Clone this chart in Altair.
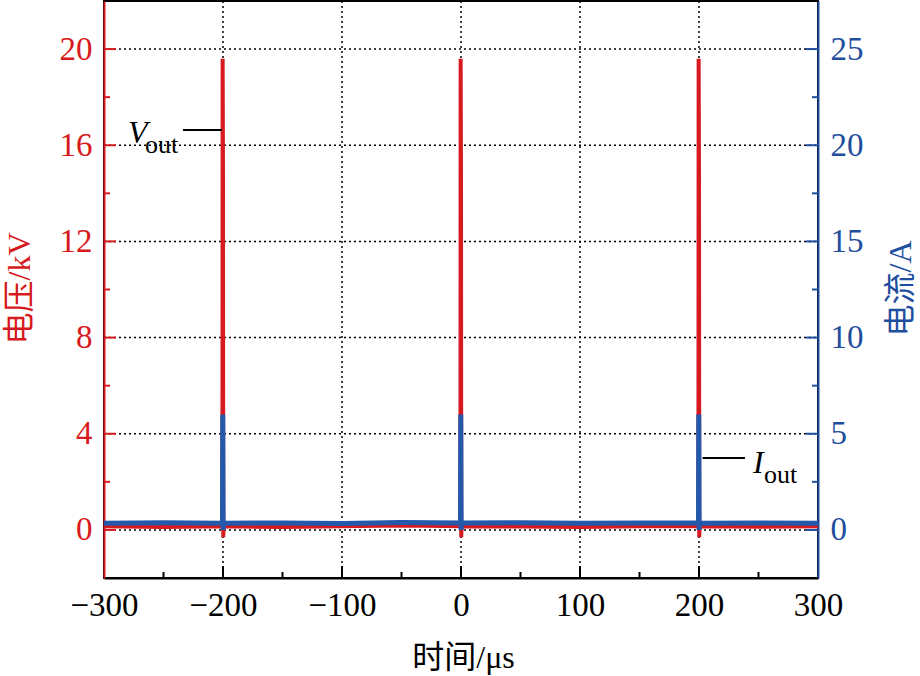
import altair as alt
import pandas as pd

# ---------------- data ----------------
v_time = [-300, -250, -200.5, -200.3, -200.0, -199.8, -199.5, -150, -100, -50,
          -0.5, -0.3, 0.0, 0.2, 0.5, 50, 100, 150,
          199.5, 199.7, 200.0, 200.2, 200.5, 250, 300]
v_kv = [0.15, 0.12, 0.15, 19.6, 14.5, -0.3, 0.15, 0.12, 0.15, 0.18,
        0.15, 19.6, 14.5, -0.3, 0.15, 0.14, 0.12, 0.15,
        0.15, 19.6, 14.5, -0.3, 0.15, 0.13, 0.15]

i_time = [-300, -250, -200.4, -200.2, -199.9, -199.6, -150, -100, -50,
          -0.4, -0.2, 0.1, 0.4, 50, 100, 150,
          199.6, 199.8, 200.1, 200.4, 250, 300]
i_amp = [0.35, 0.37, 0.35, 6.0, 0.0, 0.35, 0.36, 0.34, 0.38,
         0.36, 6.0, 0.0, 0.36, 0.37, 0.35, 0.36,
         0.36, 6.0, 0.0, 0.35, 0.36, 0.35]

x_domain = [-300, 300]
x_labels = [-300, -200, -100, 0, 100, 200, 300]
x_inner = [-200, -100, 0, 100, 200]
x_minor = [-250, -150, -50, 50, 150, 250]
v_domain = [-2, 22]
v_ticks = [0, 4, 8, 12, 16, 20]
v_minor = [2, 6, 10, 14, 18]
i_domain = [-2.5, 27.5]
i_ticks = [0, 5, 10, 15, 20, 25]
i_minor = [2.5, 7.5, 12.5, 17.5, 22.5]

v_note = {"x": -279.8, "y": 16.09, "sx": -265.5, "sy": 15.68,
          "lx": -233.6, "lx2": -201.0, "ly": 16.63}
i_note = {"x": 245.4, "y": 2.96, "sx": 254.6, "sy": 2.44,
          "lx": 203.0, "lx2": 238.6, "ly": 3.74}

# ---------------- style ----------------
RED = "#d71920"
BLUE = "#1f4e9e"
LINEBLUE = "#2358aa"
FONT = "Liberation Serif, Noto Sans CJK SC"
LFS = 33
TFS = 32
W, H = 714, 577

xs = alt.Scale(domain=x_domain, nice=False, zero=False)
vs = alt.Scale(domain=v_domain, nice=False, zero=False)
cs = alt.Scale(domain=i_domain, nice=False, zero=False)

x_axis = alt.Axis(values=x_labels, title="时间/μs", grid=False, ticks=False,
                  domainColor="black", domainWidth=2,
                  labelFont=FONT, labelFontSize=LFS, labelColor="black",
                  labelPadding=11, labelFlush=False,
                  titleFont=FONT, titleFontSize=TFS, titleFontWeight="normal",
                  titleColor="black", titleX=359, titleY=79,
                  titleAlign="center", titleBaseline="middle")
v_axis = alt.Axis(values=v_ticks, title="电压/kV", grid=False, ticks=False,
                  domainColor=RED, domainWidth=2,
                  labelFont=FONT, labelFontSize=LFS, labelColor=RED,
                  labelPadding=12,
                  titleFont=FONT, titleFontSize=TFS, titleFontWeight="normal",
                  titleColor=RED, titleX=-85, titleY=287, titleAngle=270,
                  titleAlign="center", titleBaseline="middle")
i_axis = alt.Axis(values=i_ticks, title="电流/A", orient="right", grid=False,
                  ticks=False, domainColor=BLUE, domainWidth=2,
                  labelFont=FONT, labelFontSize=LFS, labelColor=BLUE,
                  labelPadding=12,
                  titleFont=FONT, titleFontSize=TFS, titleFontWeight="normal",
                  titleColor=BLUE, titleX=82, titleY=287, titleAngle=270,
                  titleAlign="center", titleBaseline="middle")

vdf = pd.DataFrame({"t": v_time, "v": v_kv})
idf = pd.DataFrame({"t": i_time, "i": i_amp})

X = lambda f="t": alt.X(f"{f}:Q", scale=xs, axis=x_axis)
YV = lambda f: alt.Y(f"{f}:Q", scale=vs, axis=v_axis)
YI = lambda f: alt.Y(f"{f}:Q", scale=cs, axis=i_axis)

# grid lines
grid_x = alt.Chart(pd.DataFrame({"t": x_inner})).mark_rule(
    color="black", strokeWidth=1.5, strokeDash=[2, 3]).encode(
    x=X(), y=alt.value(0), y2=alt.value(H))
grid_y = alt.Chart(pd.DataFrame({"v": v_ticks})).mark_rule(
    color="black", strokeWidth=1.5, strokeDash=[2, 3]).encode(
    y=YV("v"), x=alt.value(0), x2=alt.value(W))

v_line = alt.Chart(vdf).mark_line(color=RED, strokeWidth=4).encode(
    x=X(), y=YV("v"))

# inward ticks
lt_major = alt.Chart(pd.DataFrame({"v": v_ticks})).mark_rule(
    color=RED, strokeWidth=2).encode(y=YV("v"), x=alt.value(0), x2=alt.value(12))
lt_minor = alt.Chart(pd.DataFrame({"v": v_minor})).mark_rule(
    color=RED, strokeWidth=2).encode(y=YV("v"), x=alt.value(0), x2=alt.value(6))
bt_major = alt.Chart(pd.DataFrame({"t": x_inner})).mark_rule(
    color="black", strokeWidth=2).encode(x=X(), y=alt.value(H - 12), y2=alt.value(H))
bt_minor = alt.Chart(pd.DataFrame({"t": x_minor})).mark_rule(
    color="black", strokeWidth=2).encode(x=X(), y=alt.value(H - 6), y2=alt.value(H))

# V_out annotation
vn = pd.DataFrame([v_note])
v_lead = alt.Chart(vn).mark_rule(color="black", strokeWidth=2).encode(
    x=X("lx"), x2="lx2:Q", y=YV("ly"))
v_main = alt.Chart(vn).mark_text(text="V", font=FONT, fontSize=32, fontStyle="italic",
                                 align="left", baseline="alphabetic", color="black").encode(
    x=X("x"), y=YV("y"))
v_sub = alt.Chart(vn).mark_text(text="out", font=FONT, fontSize=26,
                                align="left", baseline="alphabetic", color="black").encode(
    x=X("sx"), y=YV("sy"))

layer_v = alt.layer(grid_x, grid_y, v_line, lt_major, lt_minor, bt_major, bt_minor,
                    v_lead, v_main, v_sub)

i_line = alt.Chart(idf).mark_line(color=LINEBLUE, strokeWidth=5).encode(
    x=X(), y=YI("i"))
rt_major = alt.Chart(pd.DataFrame({"i": i_ticks})).mark_rule(
    color=BLUE, strokeWidth=2).encode(y=YI("i"), x=alt.value(W - 12), x2=alt.value(W))
rt_minor = alt.Chart(pd.DataFrame({"i": i_minor})).mark_rule(
    color=BLUE, strokeWidth=2).encode(y=YI("i"), x=alt.value(W - 6), x2=alt.value(W))

inn = pd.DataFrame([i_note])
i_lead = alt.Chart(inn).mark_rule(color="black", strokeWidth=2).encode(
    x=X("lx"), x2="lx2:Q", y=YI("ly"))
i_main = alt.Chart(inn).mark_text(text="I", font=FONT, fontSize=32, fontStyle="italic",
                                  align="left", baseline="alphabetic", color="black").encode(
    x=X("x"), y=YI("y"))
i_sub = alt.Chart(inn).mark_text(text="out", font=FONT, fontSize=26,
                                 align="left", baseline="alphabetic", color="black").encode(
    x=X("sx"), y=YI("sy"))

layer_i = alt.layer(i_line, rt_major, rt_minor, i_lead, i_main, i_sub)

chart = alt.layer(layer_v, layer_i).resolve_scale(y="independent").properties(
    width=W, height=H,
    autosize=alt.AutoSizeParams(type="none"),
    padding={"left": 104, "top": 1, "right": 102, "bottom": 98},
    background="white",
).configure_view(stroke="black", strokeWidth=2)

chart.save("out.html", embed_options={"renderer": "svg", "actions": False})
